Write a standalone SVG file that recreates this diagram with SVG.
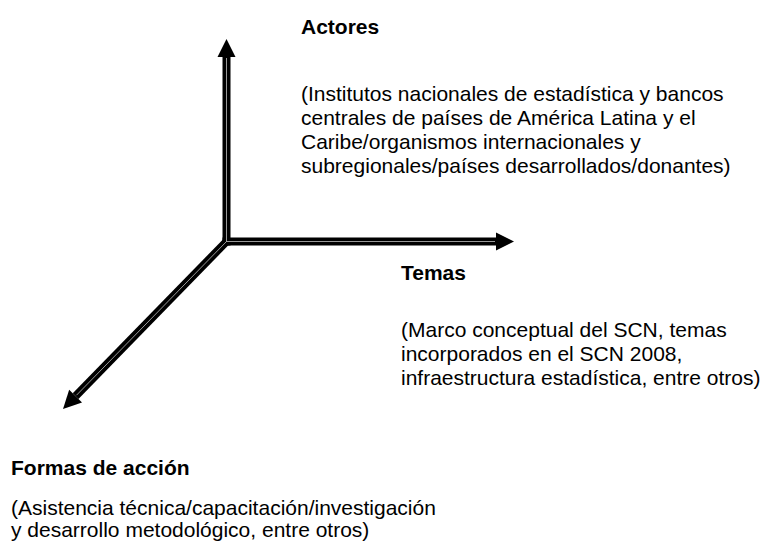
<svg xmlns="http://www.w3.org/2000/svg" width="774" height="541" viewBox="0 0 774 541">
  <style>
    .t { font-family: "Liberation Sans", Arial, Helvetica, sans-serif; font-size: 21px; fill: #000; }
    .b { font-weight: bold; }
    .ax { stroke: #000; stroke-width: 8; fill: none; stroke-linecap: butt; }
    .in { stroke: #fff; stroke-width: 0.6; fill: none; }
  </style>
  <defs>
    <marker id="ah" markerUnits="userSpaceOnUse" markerWidth="19" markerHeight="19" refX="0" refY="9" orient="auto" overflow="visible">
      <path d="M0,0 L18,9 L0,18 z" fill="#000"/>
    </marker>
  </defs>
  <rect width="774" height="541" fill="#fff"/>
  <g id="connectors">
    <path class="ax" d="M226.5,245.5 L226.5,57" marker-end="url(#ah)"/>
    <path class="ax" d="M222.5,241.5 L496,241.5" marker-end="url(#ah)"/>
    <path class="ax" d="M226.5,241.5 L75.6,396.1" stroke-width="7" marker-end="url(#ah)"/>
    <path class="in" d="M226.5,241.5 L226.5,58"/>
    <path class="in" d="M226.5,241.5 L495,241.5"/>
    <path class="in" d="M226.5,241.5 L76.5,395.2"/>
  </g>
  <g id="actores">
    <text class="t b" x="301" y="34">Actores</text>
    <text class="t" x="301" y="101">(Institutos nacionales de estadística y bancos</text>
    <text class="t" x="301" y="125">centrales de países de América Latina y el</text>
    <text class="t" x="301" y="149">Caribe/organismos internacionales y</text>
    <text class="t" x="301" y="173">subregionales/países desarrollados/donantes)</text>
  </g>
  <g id="temas">
    <text class="t b" x="401" y="280">Temas</text>
    <text class="t" x="401" y="337">(Marco conceptual del SCN, temas</text>
    <text class="t" x="401" y="361">incorporados en el SCN 2008,</text>
    <text class="t" x="401" y="385">infraestructura estadística, entre otros)</text>
  </g>
  <g id="formas">
    <text class="t b" x="11" y="475">Formas de acción</text>
    <text class="t" x="11" y="515">(Asistencia técnica/capacitación/investigación</text>
    <text class="t" x="11" y="537">y desarrollo metodológico, entre otros)</text>
  </g>
</svg>
